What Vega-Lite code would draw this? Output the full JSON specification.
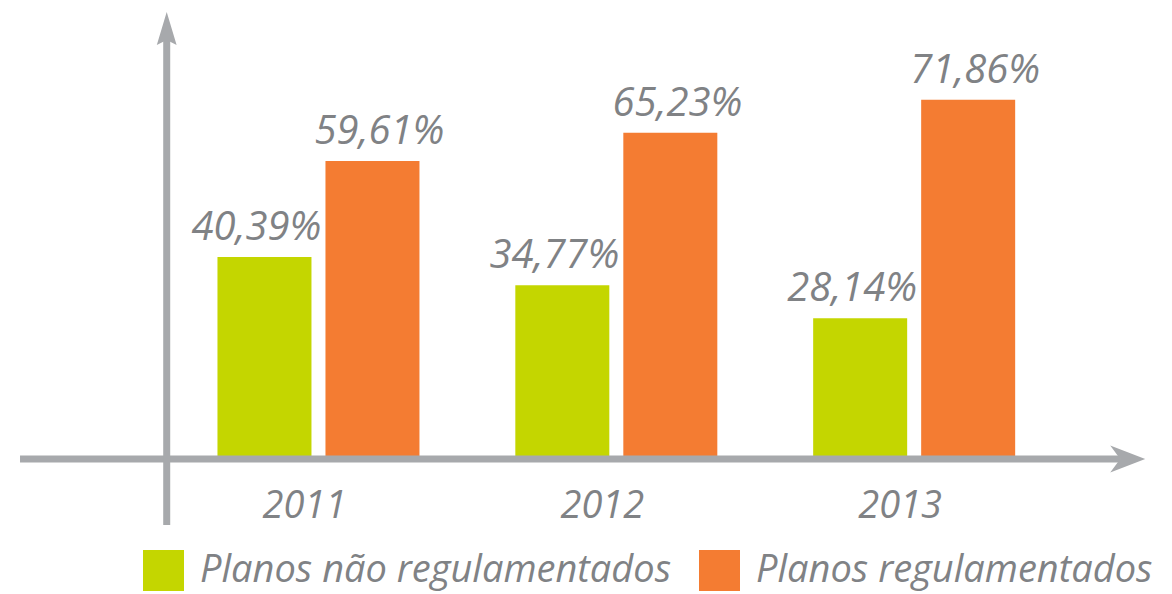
{
  "$schema": "https://vega.github.io/schema/vega-lite/v6.json",
  "width": 1132,
  "height": 515,
  "autosize": {"type": "none"},
  "padding": {"left": 18, "top": 10, "right": 22, "bottom": 69},
  "background": "white",
  "config": {
    "view": {"stroke": null},
    "font": "Open Sans",
    "locale": {"number": {"decimal": ",", "thousands": ".", "grouping": [3], "currency": ["R$", ""]}}
  },
  "data": {
    "values": [
      {"year": 2011, "series": "Planos não regulamentados", "share": 0.4039},
      {"year": 2011, "series": "Planos regulamentados", "share": 0.5961},
      {"year": 2012, "series": "Planos não regulamentados", "share": 0.3477},
      {"year": 2012, "series": "Planos regulamentados", "share": 0.6523},
      {"year": 2013, "series": "Planos não regulamentados", "share": 0.2814},
      {"year": 2013, "series": "Planos regulamentados", "share": 0.7186}
    ]
  },
  "layer": [
    {
      "transform": [{"filter": "datum.series === 'Planos não regulamentados'"}],
      "layer": [
        {
          "mark": {"type": "bar", "width": 94, "xOffset": -54},
          "encoding": {
            "x": {"field": "year", "type": "quantitative", "scale": {"domain": [2010.008, 2013.775], "nice": false, "zero": false}, "axis": null},
            "y": {"field": "share", "type": "quantitative", "scale": {"domain": [-0.132, 0.898], "nice": false, "zero": false}, "axis": null},
            "color": {"field": "series", "type": "nominal",
              "scale": {"domain": ["Planos não regulamentados", "Planos regulamentados"], "range": ["#C4D600", "#F47C32"]},
              "legend": {"orient": "none", "legendX": 125, "legendY": 540, "direction": "horizontal", "title": null,
                "symbolType": "square", "symbolSize": 1681, "symbolStrokeWidth": 0, "symbolOpacity": 1,
                "labelFont": "Open Sans", "labelFontSize": 38, "labelFontStyle": "italic", "labelColor": "#808285",
                "labelOffset": 16, "columnPadding": 27, "padding": 0, "labelLimit": 700}}
          }
        },
        {
          "mark": {"type": "text", "xOffset": -62, "dy": -17, "baseline": "alphabetic", "align": "center", "font": "Open Sans", "fontSize": 40, "fontStyle": "italic", "color": "#808285"},
          "encoding": {
            "x": {"field": "year", "type": "quantitative", "scale": {"domain": [2010.008, 2013.775], "nice": false, "zero": false}, "axis": null},
            "y": {"field": "share", "type": "quantitative", "scale": {"domain": [-0.132, 0.898], "nice": false, "zero": false}, "axis": null},
            "text": {"field": "share", "type": "quantitative", "format": ".2%"}
          }
        }
      ]
    },
    {
      "transform": [{"filter": "datum.series === 'Planos regulamentados'"}],
      "layer": [
        {
          "mark": {"type": "bar", "width": 94, "xOffset": 54},
          "encoding": {
            "x": {"field": "year", "type": "quantitative", "scale": {"domain": [2010.008, 2013.775], "nice": false, "zero": false}, "axis": null},
            "y": {"field": "share", "type": "quantitative", "scale": {"domain": [-0.132, 0.898], "nice": false, "zero": false}, "axis": null},
            "color": {"field": "series", "type": "nominal",
              "scale": {"domain": ["Planos não regulamentados", "Planos regulamentados"], "range": ["#C4D600", "#F47C32"]},
              "legend": {"orient": "none", "legendX": 125, "legendY": 540, "direction": "horizontal", "title": null,
                "symbolType": "square", "symbolSize": 1681, "symbolStrokeWidth": 0, "symbolOpacity": 1,
                "labelFont": "Open Sans", "labelFontSize": 38, "labelFontStyle": "italic", "labelColor": "#808285",
                "labelOffset": 16, "columnPadding": 27, "padding": 0, "labelLimit": 700}}
          }
        },
        {
          "mark": {"type": "text", "xOffset": 61, "dy": -17, "baseline": "alphabetic", "align": "center", "font": "Open Sans", "fontSize": 40, "fontStyle": "italic", "color": "#808285"},
          "encoding": {
            "x": {"field": "year", "type": "quantitative", "scale": {"domain": [2010.008, 2013.775], "nice": false, "zero": false}, "axis": null},
            "y": {"field": "share", "type": "quantitative", "scale": {"domain": [-0.132, 0.898], "nice": false, "zero": false}, "axis": null},
            "text": {"field": "share", "type": "quantitative", "format": ".2%"}
          }
        }
      ]
    },
    {
      "data": {"values": [{"year": 2011}, {"year": 2012}, {"year": 2013}]},
      "mark": {"type": "text", "dx": -14, "baseline": "alphabetic", "align": "center", "font": "Open Sans", "fontSize": 38, "fontStyle": "italic", "color": "#808285"},
      "encoding": {
        "x": {"field": "year", "type": "quantitative", "scale": {"domain": [2010.008, 2013.775], "nice": false, "zero": false}, "axis": null},
        "y": {"datum": -0.118, "type": "quantitative", "scale": {"domain": [-0.132, 0.898], "nice": false, "zero": false}, "axis": null},
        "text": {"field": "year", "type": "nominal"}
      }
    },
    {
      "data": {"values": [{}]},
      "mark": {"type": "rule", "color": "#A7A9AC", "strokeWidth": 7},
      "encoding": {
        "x": {"datum": 2009.998, "type": "quantitative", "scale": {"domain": [2010.008, 2013.775], "nice": false, "zero": false}, "axis": null},
        "x2": {"datum": 2013.692},
        "y": {"datum": 0, "type": "quantitative", "scale": {"domain": [-0.132, 0.898], "nice": false, "zero": false}, "axis": null}
      }
    },
    {
      "data": {"values": [{}]},
      "mark": {"type": "rule", "color": "#A7A9AC", "strokeWidth": 7},
      "encoding": {
        "x": {"datum": 2010.4905, "type": "quantitative", "scale": {"domain": [2010.008, 2013.775], "nice": false, "zero": false}, "axis": null},
        "y": {"datum": -0.132, "type": "quantitative", "scale": {"domain": [-0.132, 0.898], "nice": false, "zero": false}, "axis": null},
        "y2": {"datum": 0.848}
      }
    },
    {
      "data": {"values": [{}]},
      "mark": {"type": "point", "shape": "M0,-1L0.6,1L0,0.7L-0.6,1Z", "size": 1089, "filled": true, "opacity": 1, "color": "#A7A9AC", "strokeWidth": 0},
      "encoding": {
        "x": {"datum": 2010.4905, "type": "quantitative", "scale": {"domain": [2010.008, 2013.775], "nice": false, "zero": false}, "axis": null},
        "y": {"datum": 0.861, "type": "quantitative", "scale": {"domain": [-0.132, 0.898], "nice": false, "zero": false}, "axis": null}
      }
    },
    {
      "data": {"values": [{}]},
      "mark": {"type": "point", "shape": "M1,0L-1,-0.77L-0.43,0L-1,0.77Z", "size": 1225, "filled": true, "opacity": 1, "color": "#A7A9AC", "strokeWidth": 0},
      "encoding": {
        "x": {"datum": 2013.717, "type": "quantitative", "scale": {"domain": [2010.008, 2013.775], "nice": false, "zero": false}, "axis": null},
        "y": {"datum": 0, "type": "quantitative", "scale": {"domain": [-0.132, 0.898], "nice": false, "zero": false}, "axis": null}
      }
    }
  ]
}
